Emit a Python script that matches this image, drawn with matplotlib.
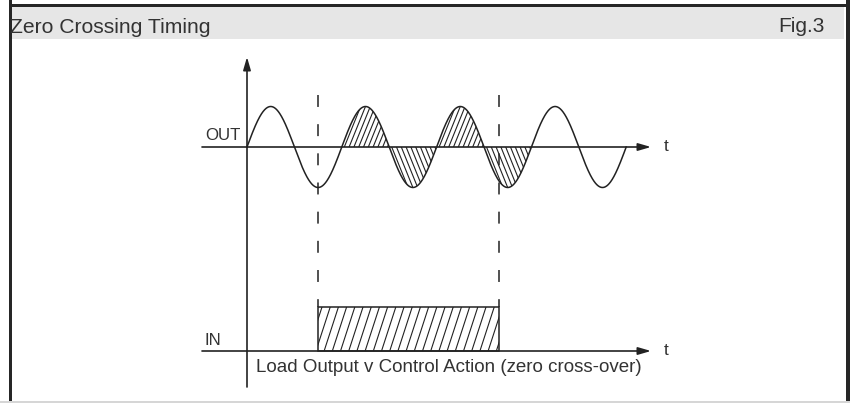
import numpy as np
import matplotlib
matplotlib.use("Agg")
import matplotlib.pyplot as plt
from matplotlib.patches import Rectangle, Polygon
from matplotlib.collections import LineCollection

# ---------------- data ----------------
n_cycles = 4                      # mains cycles shown on OUT
amplitude = 1.0                   # OUT amplitude (arbitrary units)
switch_times = [0.75, 2.66]       # control input on / off (cycles)
conduct_times = [1.0, 3.0]        # load conducts between these zero crossings (cycles)
in_level = 1.09                   # IN high level (in OUT-amplitude units)
title = "Zero Crossing Timing"
fig_label = "Fig.3"
caption = "Load Output v Control Action (zero cross-over)"
out_label, in_label, t_label = "OUT", "IN", "t"

# ---------------- layout (pixels) ----------------
W, H = 850, 403
X0, PXC = 247.0, 94.8             # pixel of t=0, pixels per cycle
YOUT, PXA = 147.0, 40.5           # OUT baseline pixel, pixels per amplitude unit
YIN = 351.0                       # IN baseline pixel

plt.rcParams["lines.scale_dashes"] = False
plt.rcParams["font.family"] = ["Liberation Sans", "DejaVu Sans"]
INK = "#222222"
TXT = "#333333"

fig = plt.figure(figsize=(W / 100, H / 100), dpi=100)
ax = fig.add_axes([0, 0, 1, 1])
ax.set_xlim(-X0 / PXC, (W - X0) / PXC)
ax.set_ylim(-(H - YOUT) / PXA, YOUT / PXA)
ax.axis("off")

def px2x(px):
    return (px - X0) / PXC

def py2y(py):
    return (YOUT - py) / PXA

in_base = py2y(YIN)

# ---------------- frame / header ----------------
def frect(x1, y1, x2, y2, color):
    fig.add_artist(Rectangle((x1 / W, 1 - y2 / H), (x2 - x1) / W, (y2 - y1) / H,
                             transform=fig.transFigure, color=color, lw=0, zorder=0))

frect(11, 7, 844, 39, "#e6e6e6")
frect(8.5, 4, 850, 7, "#262626")
frect(8.5, 0, 11.5, 401, "#262626")
frect(846, 0, 850, 401, "#262626")
frect(0, 401, 850, 403, "#d6d6d6")

fig.text(10 / W, 1 - 33 / H, title, fontsize=15.2, color=TXT, ha="left", va="baseline")
fig.text(825 / W, 1 - 32 / H, fig_label, fontsize=15, color=TXT, ha="right", va="baseline")

# ---------------- hatching helper ----------------
def hatch(poly_xy, spacing_px, angle_deg, direction, lw=0.8):
    poly = Polygon(poly_xy, closed=True, fc="none", ec="none")
    ax.add_patch(poly)
    xs, ys = poly_xy[:, 0], poly_xy[:, 1]
    ylo, yhi = ys.min() - 0.2, ys.max() + 0.2
    ymid = 0.5 * (ylo + yhi)
    m = direction * np.tan(np.radians(angle_deg)) * PXC / PXA   # data slope
    dx = spacing_px / PXC
    ext = (yhi - ylo) / abs(m) + dx
    segs = []
    for xi in np.arange(xs.min() - ext, xs.max() + ext, dx):
        segs.append([(xi + (ylo - ymid) / m, ylo), (xi + (yhi - ymid) / m, yhi)])
    lc = LineCollection(segs, colors=INK, linewidths=lw)
    ax.add_collection(lc)
    lc.set_clip_path(poly)

# ---------------- OUT trace ----------------
t = np.linspace(0, n_cycles, 4001)
out = amplitude * np.sin(2 * np.pi * t)

n_half = int(round((conduct_times[1] - conduct_times[0]) * 2))
for k in range(n_half):
    a = conduct_times[0] + k * 0.5
    b = a + 0.5
    tt = np.linspace(a, b, 200)
    yy = amplitude * np.sin(2 * np.pi * tt)
    xy = np.column_stack([np.r_[tt, b, a], np.r_[yy, 0, 0]])
    direction = 1 if yy.mean() > 0 else -1
    hatch(xy, 4.8, 68, direction)

ax.plot(t, out, color=INK, lw=1.1, zorder=3)

# ---------------- IN trace ----------------
box = Rectangle((switch_times[0], in_base), switch_times[1] - switch_times[0], in_level,
                fc="none", ec=INK, lw=1.1, zorder=3)
ax.add_patch(box)
bx = np.array([[switch_times[0], in_base], [switch_times[1], in_base],
               [switch_times[1], in_base + in_level], [switch_times[0], in_base + in_level]])
hatch(bx, 8.2, 72, 1, lw=0.8)

# dashed switching markers
for st in switch_times:
    ax.plot([st, st], [py2y(95), in_base + in_level], color=INK, lw=1.1,
            ls=(0, (8.6, 12.4)), zorder=3)

# ---------------- axes ----------------
arrow = dict(arrowstyle="-|>,head_length=0.55,head_width=0.16", lw=1.2, color=INK,
             shrinkA=0, shrinkB=0, mutation_scale=14)
for yb in (0.0, in_base):
    ax.annotate("", xy=(px2x(651), yb), xytext=(px2x(202), yb), arrowprops=arrow, zorder=4)
    ax.text(px2x(664), yb + 0.02, t_label, fontsize=12.5, color=TXT, ha="left", va="center")
ax.annotate("", xy=(0, py2y(57)), xytext=(0, py2y(387)), arrowprops=arrow, zorder=4)

ax.text(px2x(205), py2y(140), out_label, fontsize=12.2, color=TXT, ha="left", va="baseline")
ax.text(px2x(205), py2y(345), in_label, fontsize=12.2, color=TXT, ha="left", va="baseline")
ax.text(px2x(256), py2y(372), caption, fontsize=13.5, color=TXT, ha="left", va="baseline")

fig.savefig("out.png", dpi=100)
